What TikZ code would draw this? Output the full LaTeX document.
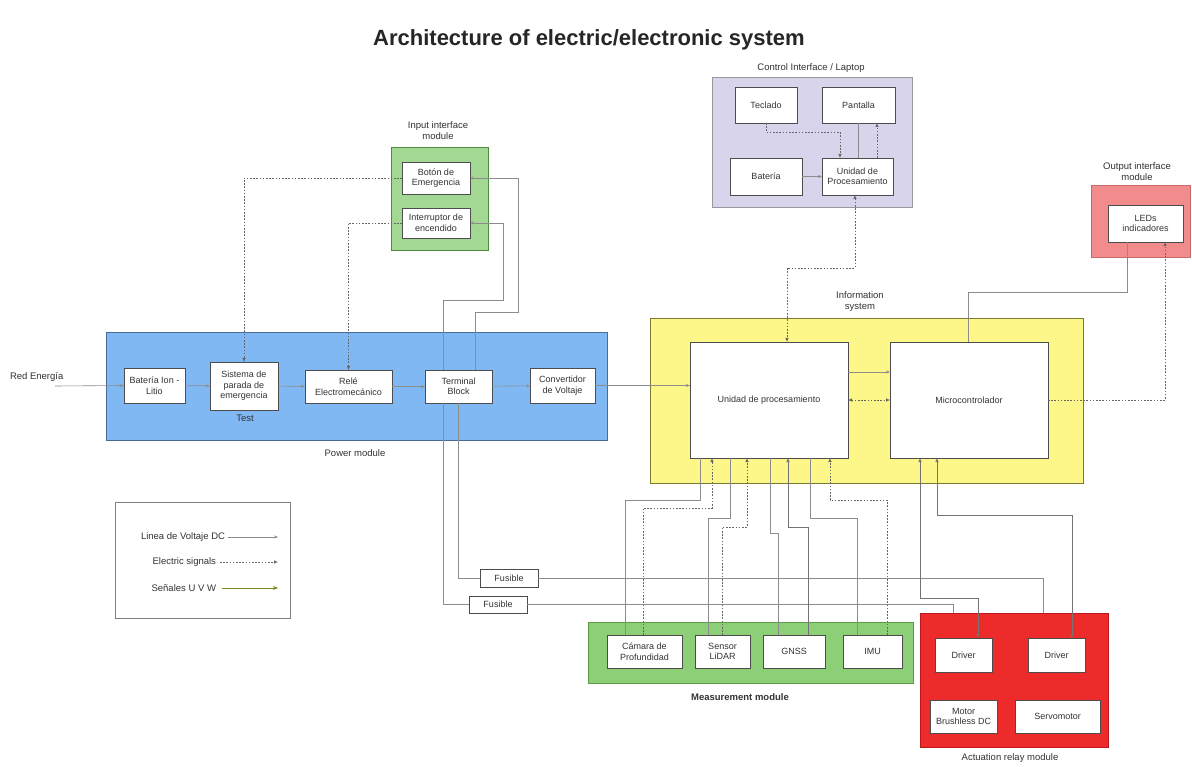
\documentclass[tikz,border=0pt]{standalone}
\usepackage{fontspec}
\setmainfont{Liberation Sans}
\usetikzlibrary{arrows.meta,calc}
\definecolor{lavfill}{HTML}{D7D4EC}
\definecolor{inpfill}{HTML}{A3D894}
\definecolor{inpdraw}{HTML}{4E8C3E}
\definecolor{powfill}{HTML}{80B8F4}
\definecolor{powdraw}{HTML}{4A6A9A}
\definecolor{inffill}{HTML}{FDF78A}
\definecolor{infdraw}{HTML}{7A7A30}
\definecolor{outfill}{HTML}{F28B8B}
\definecolor{outdraw}{HTML}{C86A6A}
\definecolor{mesfill}{HTML}{8DCF76}
\definecolor{mesdraw}{HTML}{5A9A4A}
\definecolor{actfill}{HTML}{EE2B2B}
\definecolor{actdraw}{HTML}{B81818}
\definecolor{uvwcol}{HTML}{7A8A20}
\begin{document}
\begin{tikzpicture}[x=1pt,y=-1pt,
 every node/.style={inner sep=0pt, outer sep=0pt},
 box/.style={draw=black!70, fill=white, line width=0.9pt, align=center, font=\fontsize{9}{10.5}\selectfont, text=black!80},
 grp/.style={line width=0.9pt},
 lbl/.style={align=center, font=\fontsize{9.5}{11}\selectfont, text=black!80},
 pw/.style={draw=black!45, line width=0.6pt},
 pwa/.style={pw, -{Stealth[length=4pt,width=3pt]}},
 sig/.style={draw=black!60, line width=0.7pt, dash pattern=on 1.6pt off 1.6pt},
 siga/.style={sig, -{Latex[length=4pt,width=3.6pt]}},
 sigaa/.style={sig, {Latex[length=4pt,width=3.6pt]}-{Latex[length=4pt,width=3.6pt]}},
 sola/.style={draw=black!55, line width=0.6pt, -{Latex[length=4pt,width=3.6pt]}},
 solaa/.style={draw=black!55, line width=0.6pt, {Latex[length=4pt,width=3.6pt]}-{Latex[length=4pt,width=3.6pt]}},
 uvw/.style={draw=uvwcol, line width=0.9pt, -{Stealth[length=5pt,width=4pt]}}
]
\useasboundingbox (0,0) rectangle (1192,767);
\fill[white] (0,0) rectangle (1192,767);

% title
\node[font=\fontsize{22}{26}\selectfont\bfseries, text=black!85] (title) at (589,40) {Architecture of electric/electronic system};

% groups
\node[grp, draw=black!40, fill=lavfill, minimum width=200pt, minimum height=130pt] (gLap) at (812,142) {};
\node[grp, draw=inpdraw, fill=inpfill, minimum width=97pt, minimum height=103pt] (gInp) at (439.5,198.5) {};
\node[grp, draw=powdraw, fill=powfill, minimum width=501pt, minimum height=108pt] (gPow) at (356.5,386) {};
\node[grp, draw=infdraw, fill=inffill, minimum width=433pt, minimum height=165pt] (gInf) at (866.5,400.5) {};
\node[grp, draw=outdraw, fill=outfill, minimum width=99pt, minimum height=72pt] (gOut) at (1140.5,221) {};
\node[grp, draw=mesdraw, fill=mesfill, minimum width=325pt, minimum height=61pt] (gMes) at (750.5,652.5) {};
\node[grp, draw=actdraw, fill=actfill, minimum width=188pt, minimum height=134pt] (gAct) at (1014,680) {};
\node[draw=black!50, line width=0.8pt, fill=white, minimum width=175pt, minimum height=116pt] (legend) at (202.5,560) {};

% group labels
\node[lbl] (tLap) at (811,68) {Control Interface / Laptop};
\node[lbl] (tInp) at (438,131) {Input interface\\module};
\node[lbl] (tOut) at (1137,172) {Output interface\\module};
\node[lbl] (tInf) at (860,302) {Information\\system};
\node[lbl] (tPow) at (355,453) {Power module};
\node[lbl, font=\fontsize{9.5}{11}\selectfont\bfseries] (tMes) at (740,697) {Measurement module};
\node[lbl] (tAct) at (1010,758) {Actuation relay module};
\node[lbl] (tTest) at (245,418) {Test};
\node[lbl, anchor=west] (tRed) at (10,377) {Red Energía};

% laptop
\node[box, minimum width=62pt, minimum height=36pt] (Tec) at (766,105) {Teclado};
\node[box, minimum width=73pt, minimum height=36pt] (Pan) at (858.5,105) {Pantalla};
\node[box, minimum width=72pt, minimum height=37pt] (BatL) at (766,176.5) {Batería};
\node[box, minimum width=71pt, minimum height=37pt] (UniL) at (857.5,176.5) {Unidad de\\Procesamiento};

% input
\node[box, minimum width=68pt, minimum height=32pt] (Bot) at (436,178) {Botón de\\Emergencia};
\node[box, minimum width=68pt, minimum height=30pt] (Int) at (436,223) {Interruptor de\\encendido};

% power
\node[box, minimum width=61pt, minimum height=35pt] (BatI) at (154.5,385.5) {Batería Ion -\\Litio};
\node[box, minimum width=68pt, minimum height=48pt] (Sis) at (244,386) {Sistema de\\parada de\\emergencia};
\node[box, minimum width=87pt, minimum height=33pt] (Rel) at (348.5,386.5) {Relé\\Electromecánico};
\node[box, minimum width=67pt, minimum height=33pt] (Ter) at (458.5,386.5) {Terminal\\Block};
\node[box, minimum width=65pt, minimum height=35pt] (Con) at (562.5,385.5) {Convertidor\\de Voltaje};

% information
\node[box, minimum width=158pt, minimum height=116pt] (UniP) at (769,400) {Unidad de procesamiento};
\node[box, minimum width=158pt, minimum height=116pt] (Mic) at (969,400) {Microcontrolador};

% output
\node[box, minimum width=75pt, minimum height=37pt] (Led) at (1145.5,223.5) {LEDs\\indicadores};

% measurement
\node[box, minimum width=75pt, minimum height=33pt] (Cam) at (644.5,651.5) {Cámara de\\Profundidad};
\node[box, minimum width=55pt, minimum height=33pt] (Lid) at (722.5,651.5) {Sensor\\LiDAR};
\node[box, minimum width=62pt, minimum height=33pt] (Gns) at (794,651.5) {GNSS};
\node[box, minimum width=59pt, minimum height=33pt] (Imu) at (872.5,651.5) {IMU};

% actuation
\node[box, minimum width=57pt, minimum height=34pt] (Dr1) at (963.5,655) {Driver};
\node[box, minimum width=57pt, minimum height=34pt] (Dr2) at (1056.5,655) {Driver};
\node[box, minimum width=67pt, minimum height=33pt] (Mot) at (963.5,716.5) {Motor\\Brushless DC};
\node[box, minimum width=85pt, minimum height=33pt] (Ser) at (1057.5,716.5) {Servomotor};

% fuses
\node[box, line width=0.7pt, minimum width=58pt, minimum height=18pt] (Fu1) at (509,578) {Fusible};
\node[box, line width=0.7pt, minimum width=58pt, minimum height=17pt] (Fu2) at (498,604.5) {Fusible};

% legend
\node[lbl, anchor=east] (l1) at (225,537) {Linea de Voltaje DC};
\node[lbl, anchor=east] (l2) at (216,562) {Electric signals};
\node[lbl, anchor=east] (l3) at (216,588) {Señales U V W};
\draw[pwa] ([xshift=3pt]l1.east) -- ([xshift=53pt]l1.east);
\draw[siga] ([xshift=4pt]l2.east) -- ([xshift=62pt]l2.east);
\draw[uvw] ([xshift=6pt]l3.east) -- ([xshift=62pt]l3.east);

% ---- power chain
\coordinate (redin) at (55,386);
\draw[pwa] (redin) -- (BatI.west);
\draw[pwa] (BatI) -- (Sis);
\draw[pwa] (Sis) -- (Rel);
\draw[pwa] (Rel) -- (Ter);
\draw[pwa] (Ter) -- (Con);
\draw[pwa] (Con.east) -- (UniP.west |- Con.east);
\draw[pw] (Ter.south) |- (Fu1.west);
\draw[pw] (Ter.south -| 443,0) |- (Fu2.west);
\draw[pw] (Fu1.east) -- (1043,578) -- (gAct.north -| 1043,0);
\draw[pw] (Fu2.east) -- (953,604.5) -- (gAct.north -| 953,0);

% ---- input module
\draw[siga] (Bot.west) -| (Sis.north);
\draw[siga] (Int.west) -| (Rel.north);
\draw[pwa] (Ter.north -| 475,0) -- (475,312) -- (518,312) |- (Bot.east);
\draw[pwa] (Ter.north -| 443,0) -- (443,300) -- (503,300) |- (Int.east);

% ---- laptop
\draw[siga] (Tec.south) |- (840,132) -- (UniL.north -| 840,0);
\draw[pw] (UniL.north -| 858,0) -- (Pan.south -| 858,0);
\draw[siga] (UniL.north -| 877,0) -- (Pan.south -| 877,0);
\draw[pwa] (BatL) -- (UniL);
\draw[sigaa] (UniL.south -| 855,0) -- (855,268) -- (787,268) -- (UniP.north -| 787,0);

% ---- information system
\draw[pwa] (UniP.east |- 0,372) -- (Mic.west |- 0,372);
\draw[sigaa] (UniP.east) -- (Mic.west);
\draw[siga] (Mic.east) -- (1165,400) -- (Led.south -| 1165,0);
\draw[pw] (Led.south -| 1127,0) -- (1127,292) -- (968,292) -- (Mic.north -| 968,0);

% ---- sensors
\draw[pw] (Cam.north -| 625,0) -- (625,500) -- (700,500) -- (UniP.south -| 700,0);
\draw[siga] (Cam.north -| 643,0) -- (643,508) -- (712,508) -- (UniP.south -| 712,0);
\draw[pw] (Lid.north -| 708,0) -- (708,518) -- (730,518) -- (UniP.south -| 730,0);
\draw[siga] (Lid.north -| 722,0) -- (722,527) -- (747,527) -- (UniP.south -| 747,0);
\draw[pw] (Gns.north -| 778,0) -- (778,533) -- (770,533) -- (UniP.south -| 770,0);
\draw[sola] (Gns.north -| 808,0) -- (808,527) -- (788,527) -- (UniP.south -| 788,0);
\draw[pw] (Imu.north -| 857,0) -- (857,518) -- (810,518) -- (UniP.south -| 810,0);
\draw[siga] (Imu.north -| 887,0) -- (887,500) -- (830,500) -- (UniP.south -| 830,0);

% ---- drivers
\draw[solaa] (Mic.south -| 920,0) -- (920,598) -- (978,598) -- (Dr1.north -| 978,0);
\draw[solaa] (Mic.south -| 937,0) -- (937,515) -- (1072,515) -- (Dr2.north -| 1072,0);
\end{tikzpicture}
\end{document}
